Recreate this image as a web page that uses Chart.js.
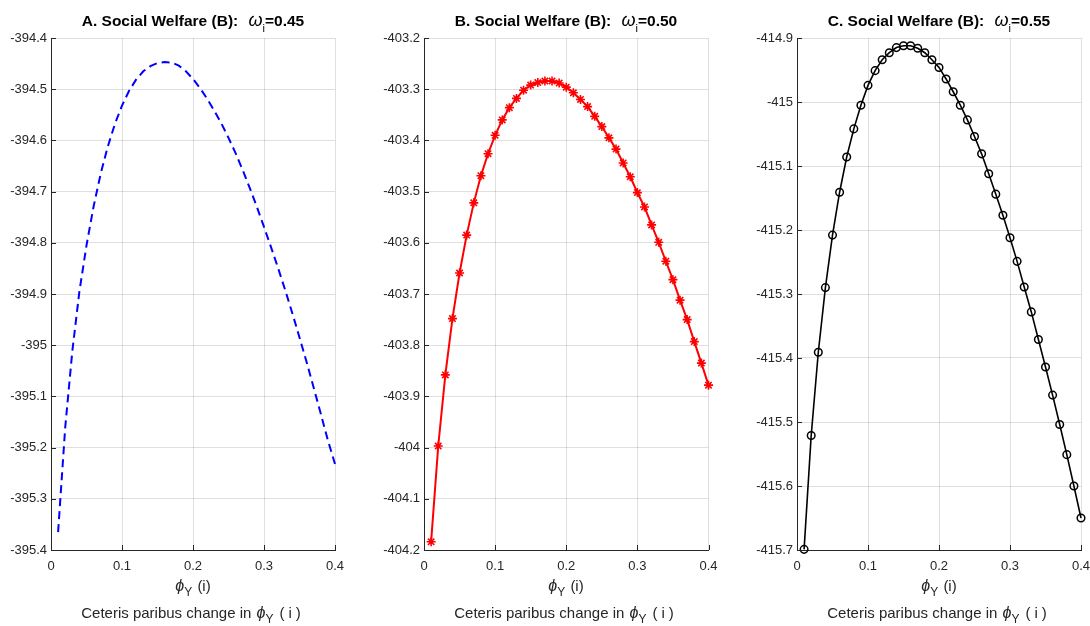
<!DOCTYPE html>
<html><head><meta charset="utf-8">
<script src="https://cdn.jsdelivr.net/npm/chart.js@4.4.1/dist/chart.umd.min.js"></script>
<style>
html,body{margin:0;padding:0;background:#fff;width:1090px;height:626px;overflow:hidden;font-family:"Liberation Sans",Arial,Helvetica,sans-serif;}
.panel{position:absolute;top:0;height:626px;}
.title{position:absolute;top:13px;font-weight:bold;font-size:15.5px;line-height:15px;color:#000;white-space:nowrap;transform:translateX(-50%);}
.title .gr{font-size:18px;margin-left:6px;}
.xl{position:absolute;font-size:15px;line-height:15px;color:#262626;white-space:nowrap;transform:translateX(-50%);}
.gr{font-style:italic;font-weight:normal;}
.xl .gr{font-size:16px;}
.sub{position:relative;font-size:11px;}
.xl .sub{font-size:12px;margin-right:1px;}
.wide{letter-spacing:4px;margin-left:5px;}
</style>
</head><body>
<div class="panel" style="left:0;width:345px"><canvas id="cA" width="345" height="626"></canvas></div>
<div class="panel" style="left:370px;width:350px"><canvas id="cB" width="350" height="626"></canvas></div>
<div class="panel" style="left:740px;width:350px"><canvas id="cC" width="350" height="626"></canvas></div>

<div class="title" style="left:193px">A. Social Welfare (B): <span class="gr">ω</span><span class="sub" style="top:6px;font-weight:normal">i</span>=0.45</div>
<div class="title" style="left:566px">B. Social Welfare (B): <span class="gr">ω</span><span class="sub" style="top:6px;font-weight:normal">i</span>=0.50</div>
<div class="title" style="left:939px">C. Social Welfare (B): <span class="gr">ω</span><span class="sub" style="top:6px;font-weight:normal">i</span>=0.55</div>

<div class="xl" style="left:193px;top:578px"><span class="gr">ϕ</span><span class="sub" style="top:5px">Y</span> (i)</div>
<div class="xl" style="left:566px;top:578px"><span class="gr">ϕ</span><span class="sub" style="top:5px">Y</span> (i)</div>
<div class="xl" style="left:939px;top:578px"><span class="gr">ϕ</span><span class="sub" style="top:5px">Y</span> (i)</div>
<div class="xl" style="left:193px;top:605px">Ceteris paribus change in <span class="gr" style="margin-left:1px">ϕ</span><span class="sub" style="top:5px">Y</span><span class="wide">(i)</span></div>
<div class="xl" style="left:566px;top:605px">Ceteris paribus change in <span class="gr" style="margin-left:1px">ϕ</span><span class="sub" style="top:5px">Y</span><span class="wide">(i)</span></div>
<div class="xl" style="left:939px;top:605px">Ceteris paribus change in <span class="gr" style="margin-left:1px">ϕ</span><span class="sub" style="top:5px">Y</span><span class="wide">(i)</span></div>

<script>
// phi_Y (i) values
const phiY = [0.01,0.02,0.03,0.04,0.05,0.06,0.07,0.08,0.09,0.10,
              0.11,0.12,0.13,0.14,0.15,0.16,0.17,0.18,0.19,0.20,
              0.21,0.22,0.23,0.24,0.25,0.26,0.27,0.28,0.29,0.30,
              0.31,0.32,0.33,0.34,0.35,0.36,0.37,0.38,0.39,0.40];
// A. omega_i = 0.45
const welfareA = [-395.365,-395.161,-395.012,-394.895,-394.805,-394.729,-394.665,-394.612,-394.568,-394.532,
                  -394.503,-394.481,-394.465,-394.455,-394.449,-394.447,-394.448,-394.454,-394.465,-394.480,
                  -394.498,-394.519,-394.542,-394.567,-394.595,-394.625,-394.658,-394.693,-394.730,-394.769,
                  -394.809,-394.850,-394.893,-394.938,-394.985,-395.033,-395.083,-395.134,-395.186,-395.232];
// B. omega_i = 0.50
const welfareB = [-404.184,-403.997,-403.858,-403.748,-403.659,-403.585,-403.522,-403.469,-403.426,-403.390,
                  -403.360,-403.336,-403.318,-403.302,-403.292,-403.287,-403.284,-403.284,-403.288,-403.296,
                  -403.307,-403.320,-403.334,-403.353,-403.373,-403.395,-403.417,-403.444,-403.471,-403.502,
                  -403.530,-403.565,-403.599,-403.636,-403.672,-403.712,-403.750,-403.793,-403.835,-403.878];
// C. omega_i = 0.55
const welfareC = [-415.699,-415.521,-415.391,-415.290,-415.208,-415.141,-415.086,-415.042,-415.005,-414.974,
                  -414.951,-414.934,-414.923,-414.915,-414.912,-414.912,-414.916,-414.923,-414.934,-414.946,
                  -414.964,-414.984,-415.005,-415.028,-415.054,-415.081,-415.112,-415.144,-415.177,-415.212,
                  -415.249,-415.289,-415.328,-415.371,-415.414,-415.458,-415.504,-415.551,-415.600,-415.650];

const xTicks = [0,0.1,0.2,0.3,0.4];
const yTicksA = [-395.4,-395.3,-395.2,-395.1,-395,-394.9,-394.8,-394.7,-394.6,-394.5,-394.4];
const yTicksB = [-404.2,-404.1,-404,-403.9,-403.8,-403.7,-403.6,-403.5,-403.4,-403.3,-403.2];
const yTicksC = [-415.7,-415.6,-415.5,-415.4,-415.3,-415.2,-415.1,-415,-414.9];

const FONT = '"Liberation Sans", Arial, Helvetica, sans-serif';
const AXC = '#262626';
const GRIDC = 'rgba(38,38,38,0.15)';
const fmt = v => String(Math.round(v*10)/10);

const inwardTicks = {
  id: 'inwardTicks',
  afterDraw(chart){
    const {ctx, chartArea:a, scales:{x, y}} = chart;
    ctx.save();
    ctx.strokeStyle = AXC; ctx.lineWidth = 1;
    ctx.beginPath();
    y.ticks.forEach(t => { const p = Math.round(y.getPixelForValue(t.value)) + 0.5; ctx.moveTo(a.left, p); ctx.lineTo(a.left + 5, p); });
    x.ticks.forEach(t => { const p = Math.round(x.getPixelForValue(t.value)) + 0.5; ctx.moveTo(p, a.bottom); ctx.lineTo(p, a.bottom - 5); });
    ctx.stroke();
    ctx.restore();
  }
};

function makeChart(id, values, yTicks, ds, yWidth, padRight){
  const data = phiY.map((x, i) => ({x: x, y: values[i]}));
  return new Chart(document.getElementById(id), {
    type: 'line',
    data: { datasets: [Object.assign({ data: data, tension: 0, clip: false, fill: false }, ds)] },
    options: {
      responsive: false, animation: false,
      layout: { padding: { top: 38, right: padRight, left: 0, bottom: 0 } },
      plugins: { legend: { display: false }, tooltip: { enabled: false }, title: { display: false } },
      scales: {
        x: {
          type: 'linear', min: xTicks[0], max: xTicks[xTicks.length-1],
          afterBuildTicks: s => { s.ticks = xTicks.map(v => ({value: v})); },
          afterFit: s => { s.height = 76; s.paddingLeft = 0; s.paddingRight = 0; },
          grid: { color: GRIDC, lineWidth: 1, drawTicks: false },
          border: { display: true, color: AXC, width: 1 },
          ticks: { padding: 9, color: AXC, font: { family: FONT, size: 13 }, maxRotation: 0, autoSkip: false, callback: v => fmt(v) }
        },
        y: {
          type: 'linear', min: yTicks[0], max: yTicks[yTicks.length-1],
          afterBuildTicks: s => { s.ticks = yTicks.map(v => ({value: v})); },
          afterFit: s => { s.width = yWidth; s.paddingTop = 0; s.paddingBottom = 0; },
          grid: { color: GRIDC, lineWidth: 1, drawTicks: false },
          border: { display: true, color: AXC, width: 1 },
          ticks: { padding: 4, color: AXC, font: { family: FONT, size: 13 }, autoSkip: false, callback: v => fmt(v) }
        }
      }
    },
    plugins: [inwardTicks]
  });
}

makeChart('cA', welfareA, yTicksA, {
  borderColor: '#0000ff', borderWidth: 2, borderDash: [8, 5], pointRadius: 0
}, 51, 10);

makeChart('cB', welfareB, yTicksB, {
  borderColor: '#ff0000', borderWidth: 2, pointStyle: 'star', pointRadius: 4.5,
  pointBorderColor: '#ff0000', pointBorderWidth: 1.6, pointBackgroundColor: '#ff0000'
}, 54, 11.5);

makeChart('cC', welfareC, yTicksC, {
  borderColor: '#000000', borderWidth: 1.6, pointStyle: 'circle', pointRadius: 3.8,
  pointBorderColor: '#000000', pointBorderWidth: 1.5, pointBackgroundColor: 'rgba(0,0,0,0)'
}, 57, 9);
</script>
</body></html>
